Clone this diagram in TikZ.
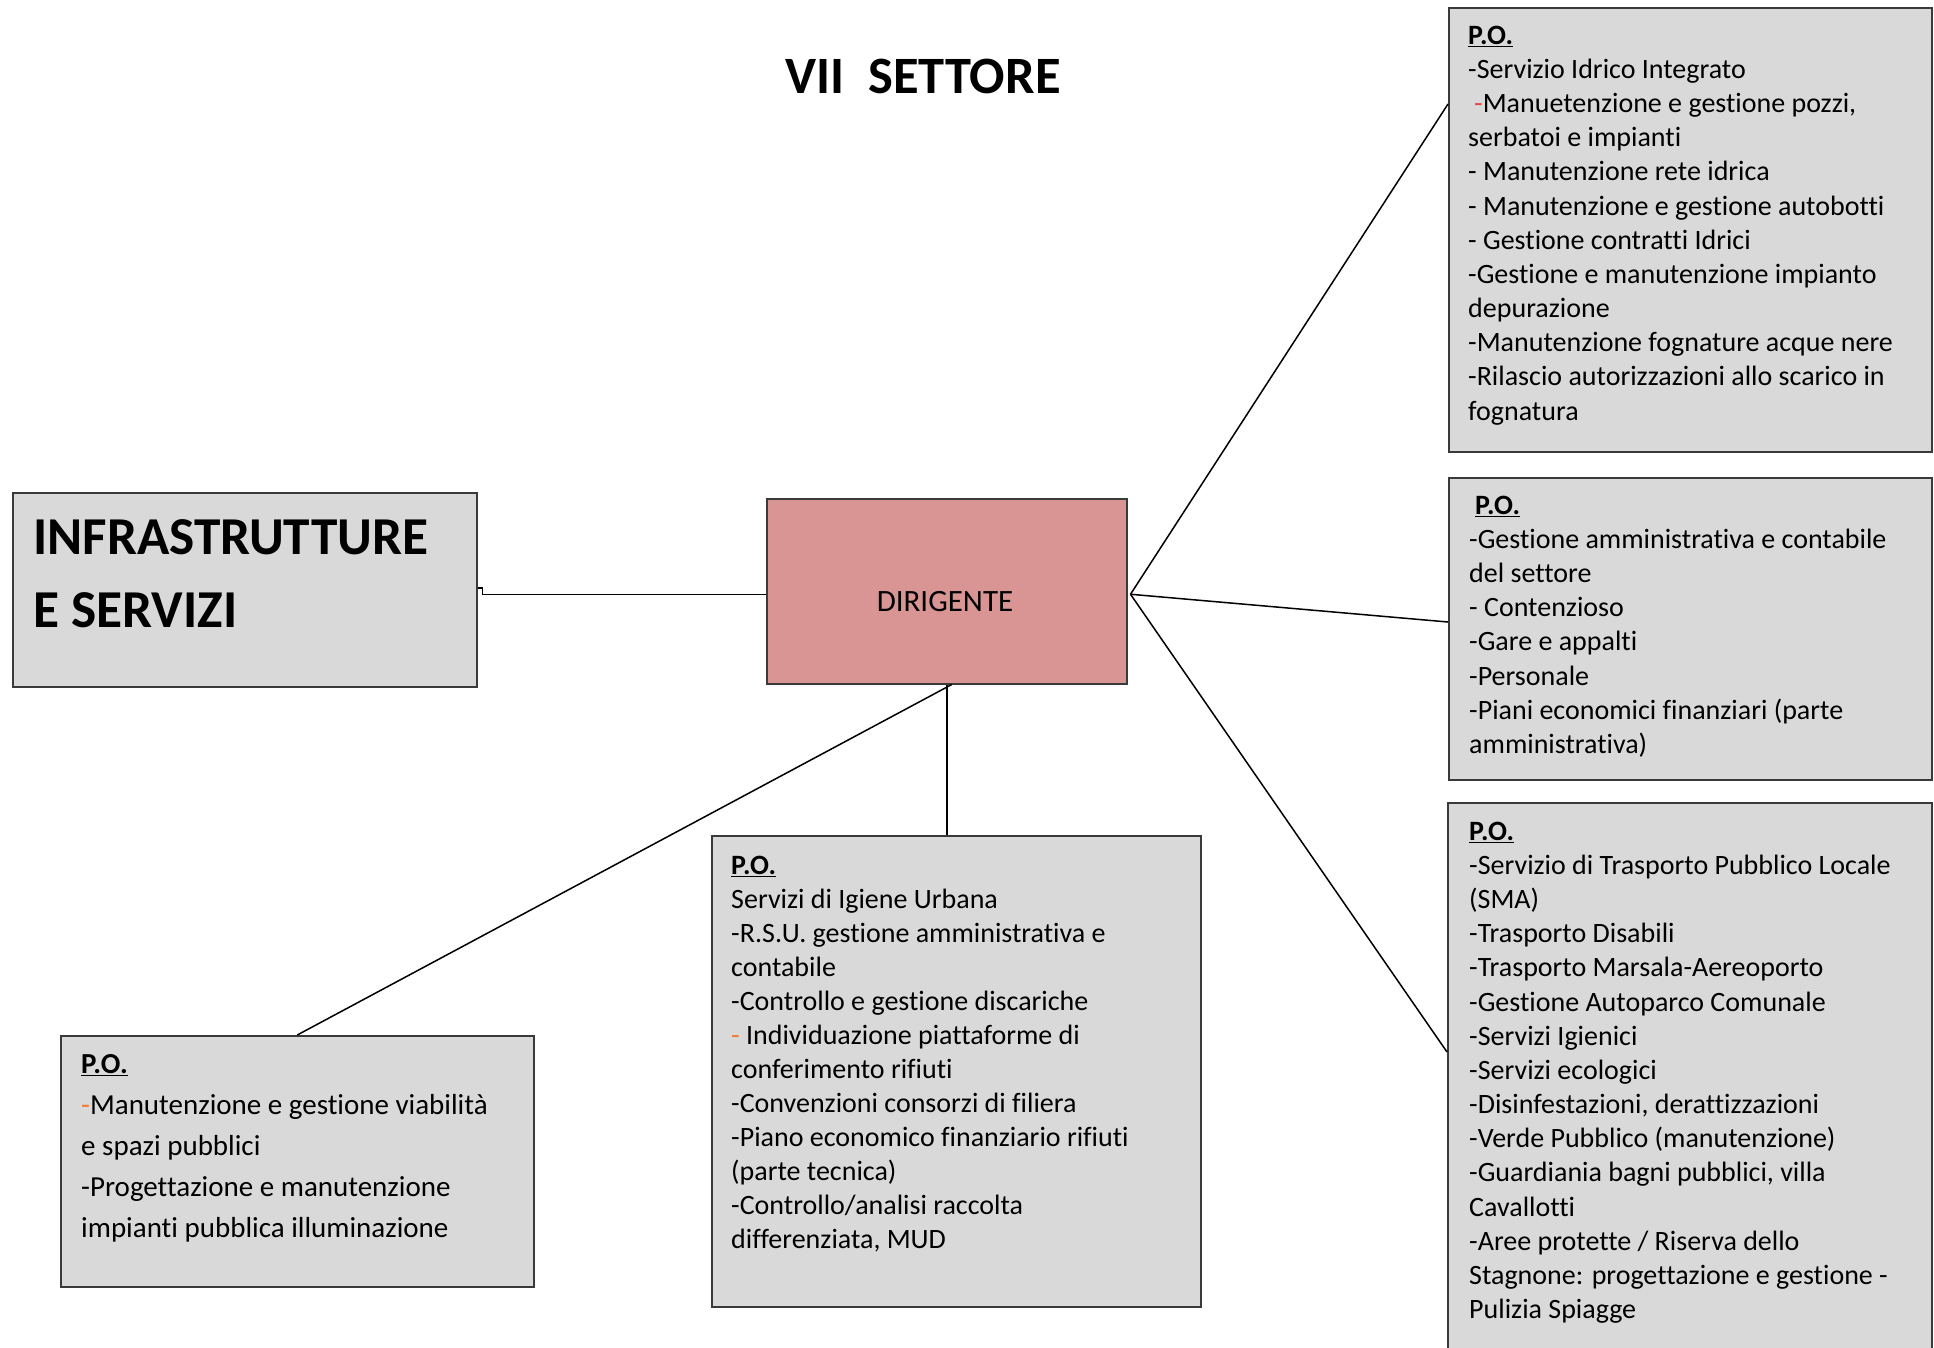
\documentclass[tikz,border=0pt]{standalone}
\usepackage{fontspec}
\setmainfont{Carlito}[Ligatures=NoCommon]
\definecolor{boxgrey}{HTML}{D9D9D9}
\definecolor{boxline}{HTML}{3A3A3A}
\definecolor{dirred}{HTML}{D99594}
\definecolor{dashorange}{HTML}{ED7D31}
\definecolor{dashred}{HTML}{E84545}
\newcommand{\potitle}{\rule{0pt}{25pt}\underline{\textbf{P.O.}}}
\tikzset{
	pobox/.style={draw=boxline, line width=1.5pt, fill=boxgrey, inner sep=0pt, anchor=north west},
	potext/.style={inner sep=0pt, anchor=north west, align=left, font=\fontsize{28}{34.17}\selectfont},
	link/.style={line width=1.5pt}
}
\begin{document}
\begin{tikzpicture}[x=1pt,y=-1pt]
		\useasboundingbox (0,0) rectangle (1934,1347);
		\clip (0,0) rectangle (1934,1347);
		\fill[white] (0,0) rectangle (1934,1347);
		\node[font=\fontsize{52.5}{60}\selectfont\bfseries, anchor=base] (titolo) at (923,93) {VII\ \ SETTORE};
		\node[pobox, minimum width=464pt, minimum height=194pt] (infra) at (12,492) {};
		\node[inner sep=0pt, anchor=north west, align=left, font=\fontsize{53.3}{73}\selectfont\bfseries] (infratxt) at (33,509) {\rule{0pt}{45pt}INFRASTRUTTURE\\E SERVIZI};
		\node[pobox, fill=dirred, minimum width=360pt, minimum height=185pt] (dir) at (766,498) {};
		\node[font=\fontsize{31}{36}\selectfont, anchor=base] (dirtxt) at (945,611) {DIRIGENTE};
		\node[pobox, minimum width=483pt, minimum height=444pt] (acqua) at (1448,7) {};
		\node[potext] (acquatxt) at (1468,19) {\potitle\\
			-Servizio Idrico Integrato\\
			\hspace*{6pt}\textcolor{dashred}{-}Manuetenzione e gestione pozzi,\\
			serbatoi e impianti\\
			- Manutenzione rete idrica\\
			- Manutenzione e gestione autobotti\\
			- Gestione contratti Idrici\\
			-Gestione e manutenzione impianto\\
			depurazione\\
			-Manutenzione fognature acque nere\\
			-Rilascio autorizzazioni allo scarico in\\
			fognatura};
		\node[pobox, minimum width=483pt, minimum height=302pt] (amm) at (1448,477) {};
		\node[potext] (ammtxt) at (1469,489) {\hspace*{6pt}\potitle\\
			-Gestione amministrativa e contabile\\
			del settore\\
			- Contenzioso\\
			-Gare e appalti\\
			-Personale\\
			-Piani economici finanziari (parte\\
			amministrativa)};
		\node[pobox, minimum width=484pt, minimum height=600pt] (trasp) at (1447,802) {};
		\node[potext] (trasptxt) at (1469,815) {\potitle\\
			-Servizio di Trasporto Pubblico Locale\\
			(SMA)\\
			-Trasporto Disabili\\
			-Trasporto Marsala-Aereoporto\\
			-Gestione Autoparco Comunale\\
			-Servizi Igienici\\
			-Servizi ecologici\\
			-Disinfestazioni, derattizzazioni\\
			-Verde Pubblico (manutenzione)\\
			-Guardiania bagni pubblici, villa\\
			Cavallotti\\
			-Aree protette / Riserva dello\\
			Stagnone: progettazione e gestione -\\
			Pulizia Spiagge};
		\node[pobox, minimum width=489pt, minimum height=471pt] (igiene) at (711,835) {};
		\node[potext, font=\fontsize{28}{34}\selectfont] (igienetxt) at (731,849) {\potitle\\
			Servizi di Igiene Urbana\\
			-R.S.U. gestione amministrativa e\\
			contabile\\
			-Controllo e gestione discariche\\
			\textcolor{dashorange}{-} Individuazione piattaforme di\\
			conferimento rifiuti\\
			-Convenzioni consorzi di filiera\\
			-Piano economico finanziario rifiuti\\
			(parte tecnica)\\
			-Controllo/analisi raccolta\\
			differenziata, MUD};
		\node[pobox, minimum width=473pt, minimum height=251pt] (strade) at (60,1035) {};
		\node[potext, font=\fontsize{29}{41}\selectfont] (stradetxt) at (81,1048) {\potitle\\
			\textcolor{dashorange}{-}Manutenzione e gestione viabilità\\
			e spazi pubblici\\
			-Progettazione e manutenzione\\
			impianti pubblica illuminazione};
		\coordinate (hub) at ([xshift=3pt,yshift=-3pt]dir.east);
		\draw[link] ([yshift=2pt]infra.east) -- ++(5,0) |- ([yshift=-3pt]dir.west);
		\draw[link] (hub) -- ([yshift=-97pt]acqua.north west);
		\draw[link] (hub) -- ([yshift=-145pt]amm.north west);
		\draw[link] (hub) -- ([yshift=-250pt]trasp.north west);
		\draw[link] (dir.south) -- (dir.south |- igiene.north);
		\draw[link] ([xshift=5pt]dir.south) -- (strade.north);
	\end{tikzpicture}
\end{document}
